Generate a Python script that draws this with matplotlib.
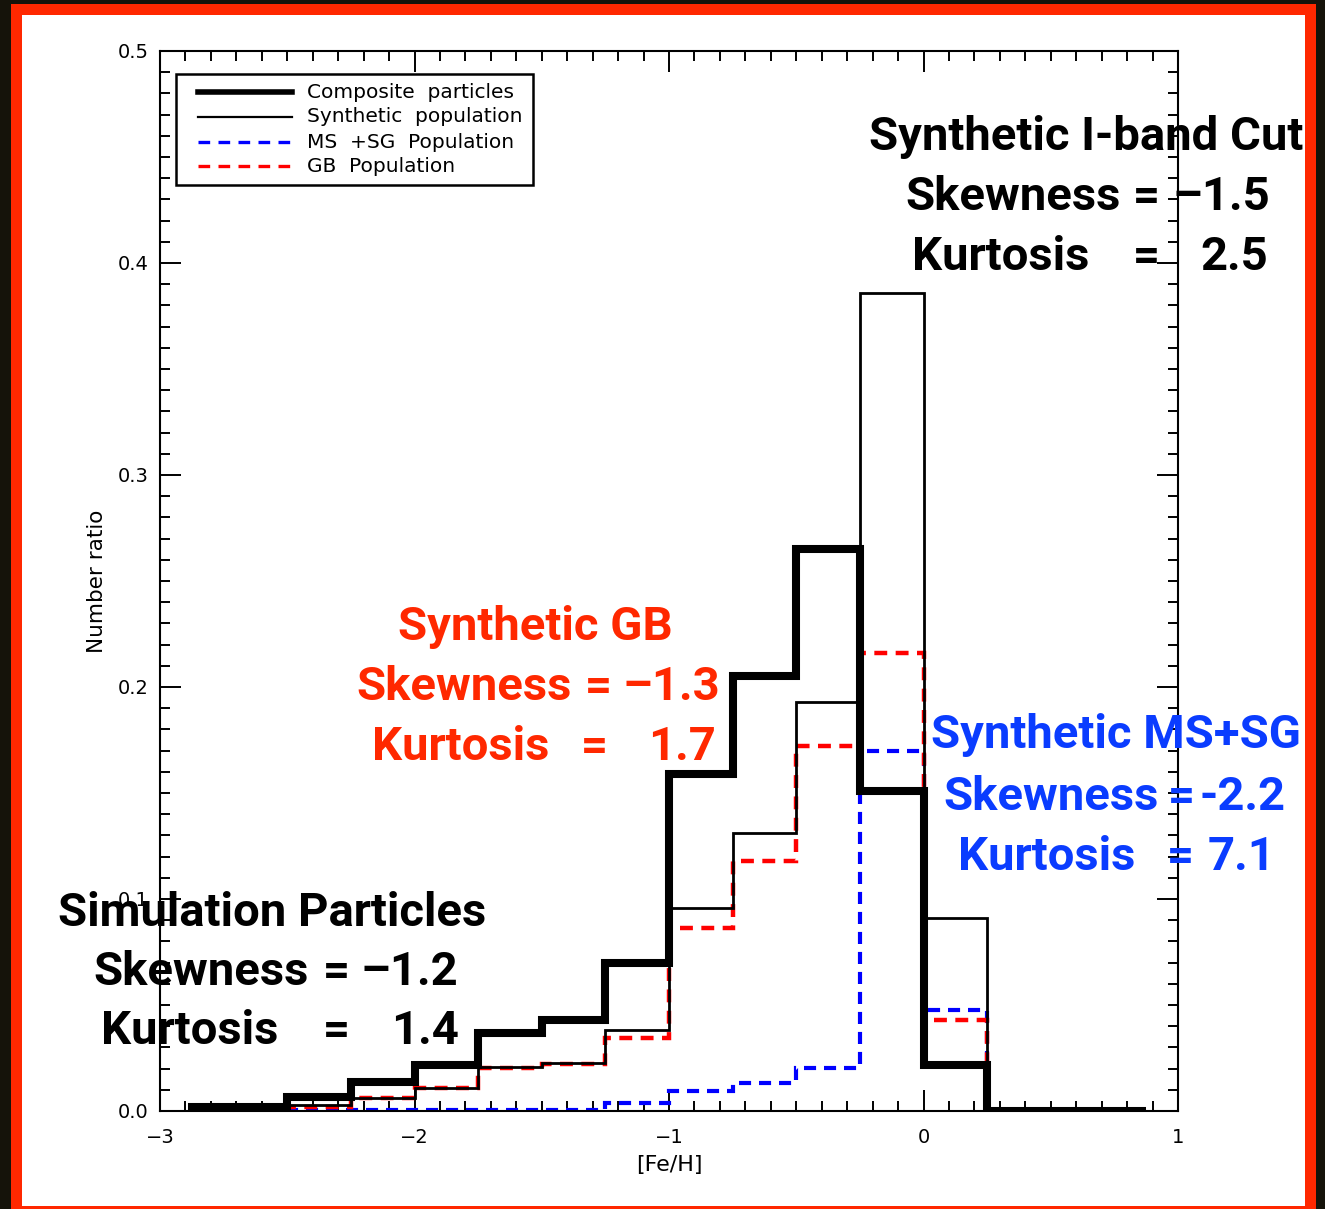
import matplotlib.pyplot as plt
from matplotlib.patches import Rectangle
from matplotlib.lines import Line2D
from matplotlib.ticker import MultipleLocator, FormatStrFormatter

# [Fe/H] histogram, bin width 0.25
edges_comp = [-2.875, -2.5, -2.25, -2.0, -1.75, -1.5, -1.25, -1.0, -0.75, -0.5, -0.25, 0.0, 0.25, 0.875]
composite = [0.002, 0.0066, 0.0137, 0.0217, 0.0368, 0.043, 0.0698, 0.159, 0.205, 0.265, 0.151, 0.0217, 0.0]

edges_pop = [-2.5, -2.25, -2.0, -1.75, -1.5, -1.25, -1.0, -0.75, -0.5, -0.25, 0.0, 0.25]
synthetic = [0.003, 0.006, 0.011, 0.0208, 0.0226, 0.038, 0.0957, 0.131, 0.193, 0.386, 0.091]
gb_pop = [0.002, 0.006, 0.011, 0.0205, 0.0222, 0.0344, 0.0863, 0.118, 0.172, 0.216, 0.0429]
mssg_pop = [0.0005, 0.0005, 0.0005, 0.0005, 0.0005, 0.0038, 0.0094, 0.0132, 0.0203, 0.170, 0.0476]

legend_labels = ["Composite  particles", "Synthetic  population", "MS  +SG  Population", "GB  Population"]

W, H = 1325, 1209
RED = "#ff2800"
BLUE = "#0a3cff"
DARK = "#15130a"

fig = plt.figure(figsize=(W / 100, H / 100), dpi=100)
fig.patch.set_facecolor("white")


def px(x, y):
    # pixel position (from top-left) -> figure fraction
    return x / W, 1 - y / H


def frame_rect(x0, y0, x1, y1, color, fill=True, lw=0, z=0):
    fx0, fy1 = px(x0, y0)
    fx1, fy0 = px(x1, y1)
    fig.patches.append(Rectangle((fx0, fy0), fx1 - fx0, fy1 - fy0, transform=fig.transFigure,
                                 facecolor=color if fill else "white",
                                 edgecolor="black" if lw else "none", lw=lw, zorder=z))


# dark surround and red frame
frame_rect(0, 0, W, 4, DARK)
frame_rect(0, 0, 11, H, DARK)
frame_rect(1316, 0, W, H, DARK)
frame_rect(11, 4, 1316, 15, RED)
frame_rect(11, 4, 22, H, RED)
frame_rect(1305, 4, 1316, H, RED)
frame_rect(11, 1206, 1316, H, RED)

x0, y1 = px(160, 51)
x1, y0 = px(1178, 1111)
ax = fig.add_axes([x0, y0, x1 - x0, y1 - y0])
ax.set_xlim(-3, 1)
ax.set_ylim(0, 0.5)

dash = (0, (2.9, 1.9))
ax.stairs(mssg_pop, edges_pop, color="blue", lw=3.0, linestyle=dash, zorder=2)
ax.stairs(gb_pop, edges_pop, color="red", lw=3.2, linestyle=dash, zorder=3)
ax.stairs(synthetic, edges_pop, color="black", lw=2.0, zorder=4)
ax.stairs(composite, edges_comp, color="black", lw=5.8, zorder=5)

# IDL-style inward ticks on all four sides
ax.xaxis.set_major_locator(MultipleLocator(1))
ax.xaxis.set_minor_locator(MultipleLocator(0.1))
ax.yaxis.set_major_locator(MultipleLocator(0.1))
ax.yaxis.set_minor_locator(MultipleLocator(0.01))
ax.yaxis.set_major_formatter(FormatStrFormatter("%.1f"))
ax.tick_params(which="both", direction="in", top=True, right=True, width=1.4, colors="black")
ax.tick_params(which="major", length=15)
ax.tick_params(which="minor", length=7.5)
ax.tick_params(axis="x", which="major", pad=12, labelsize=14)
ax.tick_params(axis="y", which="major", pad=8, labelsize=14)
for s in ax.spines.values():
    s.set_linewidth(1.5)

ax.set_xlabel("[Fe/H]", fontsize=16, labelpad=6)
ax.set_ylabel("Number ratio", fontsize=15.5, labelpad=8)

# legend box drawn by hand so the sample lines sit inset from the frame
frame_rect(176, 74, 533, 185, "white", lw=1.8, z=6)
legend_styles = [
    dict(color="black", lw=4.0),
    dict(color="black", lw=1.6),
    dict(color="blue", lw=2.4, linestyle=(0, (3.5, 2.5))),
    dict(color="red", lw=2.4, linestyle=(0, (3.5, 2.5))),
]
row_y = [92, 117, 142, 166]
for label, style, ry in zip(legend_labels, legend_styles, row_y):
    lx0, ly = px(198, ry)
    lx1, _ = px(292, ry)
    fig.add_artist(Line2D([lx0, lx1], [ly, ly], transform=fig.transFigure, zorder=7, **style))
    tx, ty = px(307, ry)
    fig.text(tx, ty, label, fontsize=14.5, ha="left", va="center", zorder=7)

font = dict(family="Roboto", weight="bold", fontsize=34)


def put(x, y, s, color):
    fx, fy = px(x, y)
    fig.text(fx, fy, s, color=color, ha="left", va="baseline", zorder=10, **font)


# statistics annotations: (label, '=', value) placed on the same baseline
put(869, 150, "Synthetic I-band Cut", "black")
put(905, 210, "Skewness", "black")
put(1133, 210, "=", "black")
put(1172, 210, "\u20131.5", "black")
put(912, 270, "Kurtosis", "black")
put(1133, 270, "=", "black")
put(1200, 270, "2.5", "black")

put(398, 640, "Synthetic GB", RED)
put(356, 700, "Skewness", RED)
put(585, 700, "=", RED)
put(622, 700, "\u20131.3", RED)
put(372, 760, "Kurtosis", RED)
put(581, 760, "=", RED)
put(648, 760, "1.7", RED)

put(931, 748, "Synthetic MS+SG", BLUE)
put(943, 810, "Skewness", BLUE)
put(1168, 810, "=", BLUE)
put(1200, 810, "-2.2", BLUE)
put(958, 870, "Kurtosis", BLUE)
put(1167, 870, "=", BLUE)
put(1208, 870, "7.1", BLUE)

put(58, 926, "Simulation Particles", "black")
put(93, 985, "Skewness", "black")
put(323, 985, "=", "black")
put(361, 985, "\u20131.2", "black")
put(101, 1044, "Kurtosis", "black")
put(323, 1044, "=", "black")
put(391, 1044, "1.4", "black")

fig.savefig("out.png", dpi=100)
